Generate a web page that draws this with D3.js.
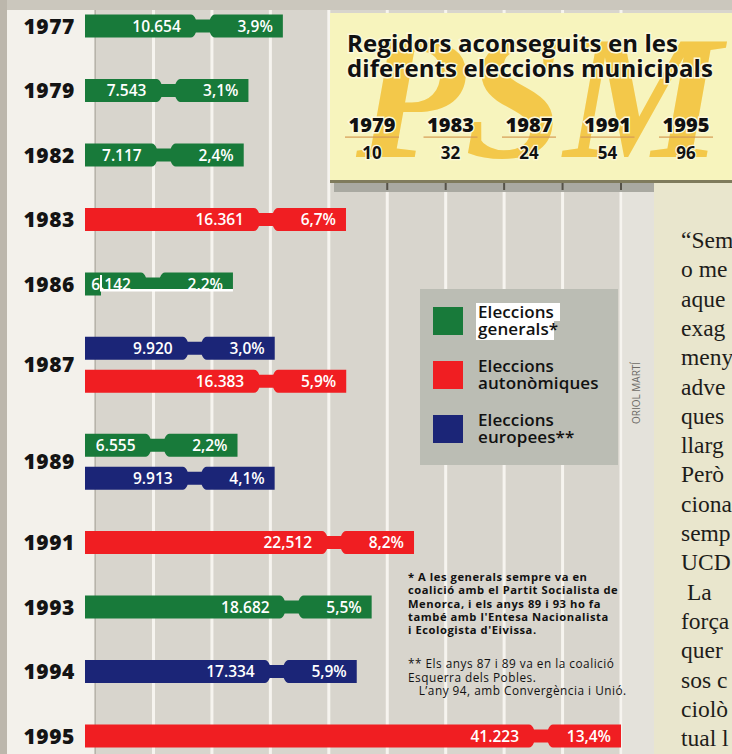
<!DOCTYPE html>
<html>
<head>
<meta charset="utf-8">
<script src="https://cdn.jsdelivr.net/npm/d3@7"></script>
<style>
  html, body { margin: 0; padding: 0; background: #d6d3cb; overflow: hidden; }
  svg { display: block; }
</style>
</head>
<body>
<div id="chart"></div>
<script>
// years shown on the left, one row per election year
var years = ["1977", "1979", "1982", "1983", "1986", "1987", "1989", "1991", "1993", "1994", "1995"];

// one entry per bar
var barYear = ["1977", "1979", "1982", "1983", "1986", "1987", "1987", "1989", "1989", "1991", "1993", "1994", "1995"];
var barType = ["gen", "gen", "gen", "aut", "gen", "eur", "aut", "gen", "eur", "aut", "gen", "eur", "aut"];
var barVotes = [10654, 7543, 7117, 16361, 6142, 9920, 16383, 6555, 9913, 22512, 18682, 17334, 41223];
var barVoteLabels = ["10.654", "7.543", "7.117", "16.361", "6.142", "9.920", "16.383", "6.555", "9.913", "22,512", "18.682", "17.334", "41.223"];
var barPct = ["3,9%", "3,1%", "2,4%", "6,7%", "2,2%", "3,0%", "5,9%", "2,2%", "4,1%", "8,2%", "5,5%", "5,9%", "13,4%"];

// municipal elections box
var munYears = ["1979", "1983", "1987", "1991", "1995"];
var munSeats = [10, 32, 24, 54, 96];

// legend
var legendKeys = ["gen", "aut", "eur"];
var legendLines = [["Eleccions", "generals*"], ["Eleccions", "autonòmiques"], ["Eleccions", "europees**"]];

// footnotes and the visible part of the article column
var note1 = ["* A les generals sempre va en", "coalició amb el Partit Socialista de", "Menorca, i els anys 89 i 93 ho fa", "també amb l'Entesa Nacionalista", "i Ecologista d'Eivissa."];
var note2 = ["** Els anys 87 i 89 va en la coalició", "Esquerra dels Pobles.", "   L’any 94, amb Convergència i Unió."];
var article = ["“Sem", "o me", "aque", "exag", "meny", "adve", "ques", "llarg", "Però", "ciona", "semp", "UCD", " La", "força", "quer", "sos c", "ciolò", "tual l"];

var W = 732, H = 754;
var sans = "'Open Sans', 'Noto Sans', sans-serif";
var serif = "'Liberation Serif', 'DejaVu Serif', serif";
var colors = d3.scaleOrdinal().domain(["gen", "aut", "eur"]).range(["#187a3a", "#f01e22", "#1b2577"]);

var svg = d3.select("#chart").append("svg").attr("width", W).attr("height", H);

// ---- page background ----
svg.append("rect").attr("width", W).attr("height", H).attr("fill", "#d8d5cd");
svg.append("rect").attr("x", 0).attr("y", 0).attr("width", W).attr("height", 10).attr("fill", "#cbc7bd");
svg.append("rect").attr("x", 0).attr("y", 10).attr("width", 95).attr("height", H).attr("fill", "#f3f1eb");
svg.append("rect").attr("x", 0).attr("y", 0).attr("width", 7).attr("height", H).attr("fill", "#bcb7ac");

// vertical white stripes
var gx = d3.scaleLinear().domain([0, 8]).range([153.5, 621]);
svg.append("g").selectAll("rect").data(d3.range(0, 9)).enter().append("rect")
  .attr("x", function (d) { return gx(d) - 1.5; })
  .attr("y", 10).attr("width", 3).attr("height", H)
  .attr("fill", "#f6f4ef");
svg.append("rect").attr("x", 94.5).attr("y", 10).attr("width", 1.2).attr("height", H).attr("fill", "#aaa69c");

// right side: credit strip and article column
svg.append("rect").attr("x", 623).attr("y", 183).attr("width", 40).attr("height", H).attr("fill", "#e4e2db");
svg.append("rect").attr("x", 654).attr("y", 183).attr("width", W - 654).attr("height", H).attr("fill", "#e9e6cd");

// ---- municipal box ----
var box = svg.append("g");
box.append("rect").attr("x", 330).attr("y", 13).attr("width", W - 330).attr("height", 168).attr("fill", "#f7f4bd");
box.append("text").attr("x", 356).attr("y", 157)
  .attr("font-family", serif)
  .attr("font-style", "italic").attr("font-weight", "bold")
  .attr("font-size", 176).attr("fill", "#f3c84a")
  .attr("textLength", 366).attr("lengthAdjust", "spacingAndGlyphs")
  .text("PSM");
box.append("rect").attr("x", 330).attr("y", 180).attr("width", W - 330).attr("height", 3).attr("fill", "#7f7b5c");
box.append("rect").attr("x", 334).attr("y", 183).attr("width", 320).attr("height", 9).attr("fill", "#a9a9a1");
box.append("g").selectAll("rect").data(d3.range(4, 9)).enter().append("rect")
  .attr("x", function (d) { return gx(d) - 1; })
  .attr("y", 183).attr("width", 2).attr("height", 7).attr("fill", "#555248");

var title = ["Regidors aconseguits en les", "diferents eleccions municipals"];
box.selectAll("text.title").data(title).enter().append("text")
  .attr("class", "title")
  .attr("x", 347).attr("y", function (d, i) { return 52 + i * 25; })
  .attr("font-family", sans).attr("font-weight", 700).attr("font-size", 24)
  .attr("fill", "#111").attr("stroke", "#fbf8dc").attr("stroke-width", 3)
  .attr("paint-order", "stroke").attr("letter-spacing", 0.1)
  .text(function (d) { return d; });

var mx = d3.scalePoint().domain(munYears).range([372, 686]);
var mun = box.selectAll("g.mun").data(munYears).enter().append("g").attr("class", "mun")
  .attr("transform", function (d) { return "translate(" + mx(d) + ",0)"; });
mun.append("text").attr("y", 132).attr("text-anchor", "middle")
  .attr("font-family", sans).attr("font-weight", 800).attr("font-size", 20)
  .attr("fill", "#111").attr("stroke", "#fbf8dc").attr("stroke-width", 3).attr("paint-order", "stroke")
  .text(function (d) { return d; });
mun.append("rect").attr("x", -27).attr("y", 136.5).attr("width", 54).attr("height", 1.2).attr("fill", "#d59a55");
mun.append("text").attr("y", 159).attr("text-anchor", "middle")
  .attr("font-family", sans).attr("font-weight", 700).attr("font-size", 17)
  .attr("fill", "#111").attr("stroke", "#fbf8dc").attr("stroke-width", 2.5).attr("paint-order", "stroke")
  .text(function (d, i) { return munSeats[i]; });

// ---- row layout ----
var nBars = {};
barYear.forEach(function (y) { nBars[y] = (nBars[y] || 0) + 1; });
function slot(n) { return 32 + 32.5 * n; }
var yc = {};
years.forEach(function (y, i) {
  yc[y] = i === 0 ? 26 : yc[years[i - 1]] + (slot(nBars[years[i - 1]]) + slot(nBars[y])) / 2;
});

var x = d3.scaleLinear().domain([0, 41223]).range([85, 541]);
var pctW = 80, barH = 23;

var bars = [];
var seen = {};
barYear.forEach(function (y, i) {
  var j = seen[y] || 0;
  seen[y] = j + 1;
  bars.push({
    year: y, type: barType[i], votes: barVotes[i], vlabel: barVoteLabels[i], pct: barPct[i],
    cy: yc[y] + (j - (nBars[y] - 1) / 2) * 33
  });
});

function barPath(d) {
  var x0 = 85, n = x(d.votes), e = n + pctW, t = d.cy - barH / 2, b = d.cy + barH / 2, k = 5;
  return "M" + x0 + "," + t +
    "L" + (n - 12) + "," + t + "Q" + (n - 9) + "," + t + " " + (n - 7) + "," + (t + k) +
    "L" + (n + 7) + "," + (t + k) + "Q" + (n + 9) + "," + t + " " + (n + 12) + "," + t +
    "L" + e + "," + t + "L" + e + "," + b +
    "L" + (n + 12) + "," + b + "Q" + (n + 9) + "," + b + " " + (n + 7) + "," + (b - k) +
    "L" + (n - 7) + "," + (b - k) + "Q" + (n - 9) + "," + b + " " + (n - 12) + "," + b +
    "L" + x0 + "," + b + "Z";
}

// clip for the damaged 1986 bar
var defs = svg.append("defs");
var cp = defs.append("clipPath").attr("id", "clip86");
cp.append("rect").attr("x", 80).attr("y", 260).attr("width", 21).attr("height", 40);
cp.append("rect").attr("x", 100).attr("y", 260).attr("width", 200).attr("height", yc["1986"] + 5 - 260);

var g = svg.append("g");
var bar = g.selectAll("g.bar").data(bars).enter().append("g").attr("class", "bar")
  .attr("clip-path", function (d) { return d.year === "1986" ? "url(#clip86)" : null; });
bar.append("path").attr("d", barPath).attr("fill", function (d) { return colors(d.type); });
bar.append("text")
  .attr("x", function (d) { return x(d.votes) - 22; })
  .attr("y", function (d) { return d.cy + 5.5; })
  .attr("text-anchor", "end")
  .attr("font-family", sans).attr("font-weight", 600).attr("font-size", 15.5)
  .attr("fill", "#fff")
  .text(function (d) { return d.vlabel; });
bar.append("text")
  .attr("x", function (d) { return x(d.votes) + pctW - 10; })
  .attr("y", function (d) { return d.cy + 5.5; })
  .attr("text-anchor", "end")
  .attr("font-family", sans).attr("font-weight", 600).attr("font-size", 15.5)
  .attr("fill", "#fff")
  .text(function (d) { return d.pct; });

// white scan lines over the 1986 bar
var b86 = bars.filter(function (d) { return d.year === "1986"; })[0];
g.append("rect").attr("x", 100).attr("y", b86.cy + 5).attr("width", x(b86.votes) + pctW - 100).attr("height", 2.5).attr("fill", "#fff");
g.append("rect").attr("x", 100).attr("y", b86.cy - 9).attr("width", 2).attr("height", 16).attr("fill", "#fff");

// year labels
svg.append("g").selectAll("text").data(years).enter().append("text")
  .attr("x", 75).attr("y", function (d) { return yc[d] + 7.5; })
  .attr("text-anchor", "end")
  .attr("font-family", sans).attr("font-weight", 800).attr("font-size", 21)
  .attr("letter-spacing", 0.6)
  .attr("fill", "#141414")
  .text(function (d) { return d; });

// ---- legend ----
var lg = svg.append("g");
lg.append("rect").attr("x", 420).attr("y", 289).attr("width", 198).attr("height", 176).attr("fill", "#bbbdb4");
lg.append("rect").attr("x", 476).attr("y", 303).attr("width", 84).attr("height", 18).attr("fill", "#fff");
lg.append("rect").attr("x", 476).attr("y", 321).attr("width", 78).attr("height", 19).attr("fill", "#fff");
var li = lg.selectAll("g.li").data(legendKeys).enter().append("g").attr("class", "li")
  .attr("transform", function (d, i) { return "translate(0," + (i * 54) + ")"; });
li.append("rect").attr("x", 433).attr("y", 307).attr("width", 30).attr("height", 28)
  .attr("fill", function (d) { return colors(d); });
li.selectAll("text").data(function (d, i) { return legendLines[i]; }).enter().append("text")
  .attr("x", 478).attr("y", function (d, j) { return 318 + j * 17; })
  .attr("font-family", sans).attr("font-weight", 600).attr("font-size", 17)
  .attr("letter-spacing", 0.1)
  .attr("fill", "#111")
  .text(function (d) { return d; });

// photo credit
svg.append("text")
  .attr("transform", "translate(640,424) rotate(-90)")
  .attr("font-family", sans).attr("font-size", 10).attr("fill", "#6d6b66")
  .text("ORIOL MARTÍ");

// ---- footnotes ----
svg.append("g").selectAll("text").data(note1).enter().append("text")
  .attr("x", 408).attr("y", function (d, i) { return 581 + i * 13.3; })
  .attr("font-family", sans).attr("font-weight", 700).attr("font-size", 11.2)
  .attr("letter-spacing", 0.55).attr("fill", "#111")
  .text(function (d) { return d; });
svg.append("g").selectAll("text").data(note2).enter().append("text")
  .attr("x", 408).attr("y", function (d, i) { return 668 + i * 13.6; })
  .attr("font-family", sans).attr("font-size", 11.8)
  .attr("letter-spacing", 0.5)
  .style("white-space", "pre")
  .attr("fill", "#111")
  .text(function (d) { return d; });

// ---- article column ----
svg.append("g").selectAll("text").data(article).enter().append("text")
  .attr("x", 681).attr("y", function (d, i) { return 248 + i * 29.3; })
  .style("white-space", "pre")
  .attr("font-family", serif).attr("font-size", 23.5)
  .attr("fill", "#1e1d1a")
  .text(function (d) { return d; });
</script>
</body>
</html>
